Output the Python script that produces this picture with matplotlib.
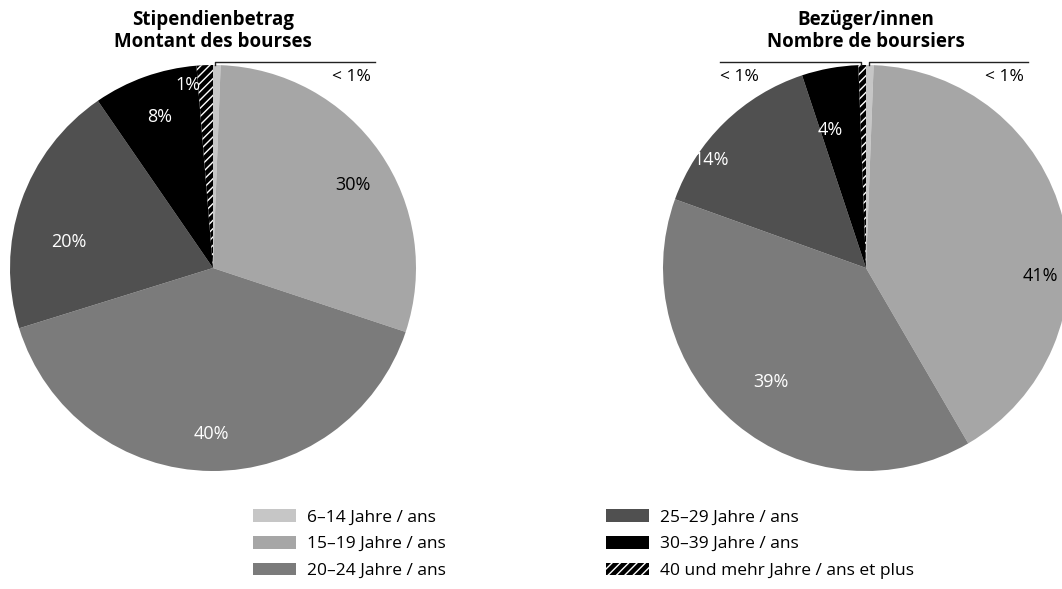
import matplotlib
matplotlib.use("Agg")
import matplotlib.pyplot as plt
import matplotlib.patches as mpatches
import numpy as np

plt.rcParams['font.family'] = ['Open Sans', 'DejaVu Sans']

# Age groups (German / French)
categories = ["6–14 Jahre / ans", "15–19 Jahre / ans", "20–24 Jahre / ans",
              "25–29 Jahre / ans", "30–39 Jahre / ans", "40 und mehr Jahre / ans et plus"]
colors = ["#c6c6c6", "#a6a6a6", "#7b7b7b", "#505050", "#000000", "#000000"]

# Share of scholarship amount (%)
amount_values = [0.6, 29.5, 40.1, 20.2, 8.3, 1.3]
amount_labels = ["", "30%", "40%", "20%", "8%", "1%"]
amount_label_colors = ["k", "k", "w", "w", "w", "w"]
amount_label_dist = [0, 0.80, 0.82, 0.72, 0.79, 0.91]
amount_label_shift = [0, -4, 0, 9, 0, 5.4]

# Share of recipients (%)
people_values = [0.6, 41.0, 38.9, 14.4, 4.5, 0.6]
people_labels = ["", "41%", "39%", "14%", "4%", ""]
people_label_colors = ["k", "k", "w", "w", "w", "w"]
people_label_dist = [0, 0.86, 0.73, 0.93, 0.70, 0]
people_label_shift = [0, -16.6, 0, 11, 4.3, 0]

fig = plt.figure(figsize=(10.62, 5.89), dpi=100)
W, H = 1062, 589
R = 203


def draw_pie(cx, cy, values, labels, label_colors, label_dist, label_shift, title):
    ax = fig.add_axes([(cx - R) / W, (H - cy - R) / H, 2 * R / W, 2 * R / H])
    wedges, _ = ax.pie(values, colors=colors, startangle=90, counterclock=False,
                       radius=1, wedgeprops=dict(linewidth=0))
    wedges[-1].set_hatch("////")
    wedges[-1].set_edgecolor("white")
    wedges[-1].set_linewidth(0)
    total = sum(values)
    start = 90.0
    for v, lab, c, d, s in zip(values, labels, label_colors, label_dist, label_shift):
        mid = start - v / total * 360 / 2 + s
        start -= v / total * 360
        if lab:
            ax.text(d * np.cos(np.radians(mid)), d * np.sin(np.radians(mid)), lab,
                    color=c, ha="center", va="center", fontsize=13)
    ax.set_xlim(-1, 1)
    ax.set_ylim(-1, 1)
    ax.set_aspect("equal")
    ax.axis("off")
    ax.text(0, 1.168, title, ha="center", va="center", fontsize=13.5,
            fontweight="bold", linespacing=1.15)
    return ax


ax1 = draw_pie(213, 268, amount_values, amount_labels, amount_label_colors,
               amount_label_dist, amount_label_shift, "Stipendienbetrag\nMontant des bourses")
ax1.plot([0.01, 0.01, 0.80], [1.0, 1.015, 1.015], color="#222222", lw=1, clip_on=False)
ax1.text(0.78, 0.94, "< 1%", ha="right", va="center", fontsize=12.5)

ax2 = draw_pie(866, 268, people_values, people_labels, people_label_colors,
               people_label_dist, people_label_shift, "Bezüger/innen\nNombre de boursiers")
ax2.plot([-0.72, -0.025, -0.025], [1.015, 1.015, 1.0], color="#222222", lw=1, clip_on=False)
ax2.plot([0.015, 0.015, 0.80], [1.0, 1.015, 1.015], color="#222222", lw=1, clip_on=False)
ax2.text(-0.72, 0.94, "< 1%", ha="left", va="center", fontsize=12.5)
ax2.text(0.78, 0.94, "< 1%", ha="right", va="center", fontsize=12.5)

handles = []
for i, (cat, col) in enumerate(zip(categories, colors)):
    if i == len(categories) - 1:
        p = mpatches.Patch(facecolor=col, edgecolor="white", hatch="////", linewidth=0, label=cat)
    else:
        p = mpatches.Patch(facecolor=col, linewidth=0, label=cat)
    handles.append(p)

leg_kw = dict(frameon=False, fontsize=12.5, handlelength=2.47, handleheight=0.75,
              handletextpad=0.63, labelspacing=0.6, borderpad=0, borderaxespad=0)
fig.legend(handles=handles[:3], loc="upper left", bbox_to_anchor=(253 / W, 1 - 509 / H), **leg_kw)
fig.legend(handles=handles[3:], loc="upper left", bbox_to_anchor=(606 / W, 1 - 509 / H), **leg_kw)

fig.savefig("out.png", dpi=100)
